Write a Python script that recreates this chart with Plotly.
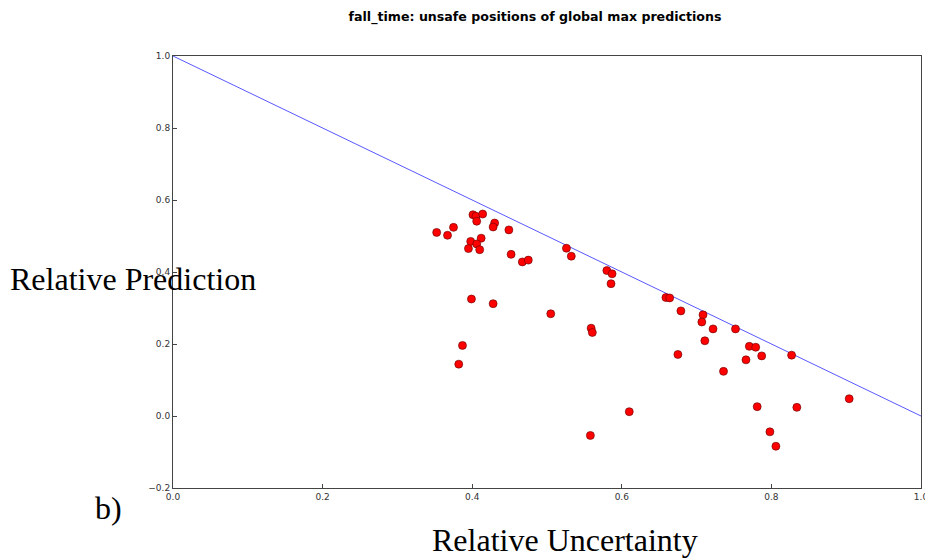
import plotly.graph_objects as go

rel_uncertainty = [0.3525, 0.367, 0.375, 0.401, 0.405, 0.406, 0.414, 0.430, 0.428, 0.449,
                   0.398, 0.412, 0.406, 0.395, 0.410, 0.452, 0.467, 0.475, 0.526, 0.399,
                   0.428, 0.505, 0.387, 0.382, 0.5325, 0.580, 0.587, 0.5856, 0.559, 0.5606,
                   0.659, 0.664, 0.679, 0.7086, 0.707, 0.722, 0.711, 0.675, 0.736, 0.610,
                   0.558, 0.752, 0.7705, 0.779, 0.766, 0.787, 0.827, 0.904, 0.781, 0.834,
                   0.798, 0.806]
rel_prediction = [0.510, 0.502, 0.524, 0.559, 0.555, 0.541, 0.561, 0.536, 0.525, 0.517,
                  0.485, 0.494, 0.478, 0.465, 0.462, 0.449, 0.428, 0.433, 0.466, 0.325,
                  0.312, 0.284, 0.196, 0.144, 0.444, 0.404, 0.395, 0.3675, 0.244, 0.232,
                  0.329, 0.328, 0.292, 0.281, 0.261, 0.242, 0.209, 0.171, 0.124, 0.012,
                  -0.054, 0.242, 0.1935, 0.191, 0.156, 0.167, 0.169, 0.048, 0.026, 0.024,
                  -0.044, -0.084]

line_x = [0.0, 1.0]
line_y = [1.0, 0.0]
x_ticks = [0.0, 0.2, 0.4, 0.6, 0.8, 1.0]
y_ticks = [-0.2, 0.0, 0.2, 0.4, 0.6, 0.8, 1.0]

fig = go.Figure()
fig.add_trace(go.Scatter(x=line_x, y=line_y, mode="lines",
                         line=dict(color="rgba(70,70,255,0.9)", width=1), showlegend=False))
fig.add_trace(go.Scatter(x=rel_uncertainty, y=rel_prediction, mode="markers",
                         marker=dict(color="#ff0000", size=8, line=dict(color="#600000", width=0.6)),
                         showlegend=False))

axis_common = dict(showgrid=False, zeroline=False, showline=True, mirror=True,
                   linecolor="#444", linewidth=1, ticks="inside", ticklen=4,
                   tickcolor="#444", tickfont=dict(family="DejaVu Sans", size=9, color="#333"),
                   ticklabeloverflow="allow", automargin=False)
fig.update_xaxes(range=[0, 1], tickvals=x_ticks, ticktext=[f"{v:.1f}" for v in x_ticks], **axis_common)
fig.update_yaxes(range=[-0.2, 1.0], tickvals=y_ticks,
                 ticktext=[("\u22120.2" if v < 0 else f"{v:.1f}") for v in y_ticks], **axis_common)

fig.update_layout(
    width=925, height=559,
    margin=dict(l=173, r=4, t=56, b=71, autoexpand=False),
    plot_bgcolor="white", paper_bgcolor="white",
    title=dict(text="<b>fall_time: unsafe positions of global max predictions</b>",
               x=535 / 925, xanchor="center", y=1 - 17 / 559, yanchor="middle",
               font=dict(family="DejaVu Sans", size=12.6, color="#000")),
    annotations=[
        dict(text="Relative Prediction", xref="paper", yref="paper",
             x=-165 / 748, y=(488 - 279) / 432, xanchor="left", yanchor="middle",
             showarrow=False, font=dict(family="Liberation Serif", size=32, color="#000")),
        dict(text="Relative Uncertainty", xref="paper", yref="paper",
             x=(565 - 173) / 748, y=-(540 - 488) / 432, xanchor="center", yanchor="middle",
             showarrow=False, font=dict(family="Liberation Serif", size=32, color="#000")),
        dict(text="b)", xref="paper", yref="paper",
             x=(93 - 173) / 748, y=-(508 - 488) / 432, xanchor="left", yanchor="middle",
             showarrow=False, font=dict(family="Liberation Serif", size=32, color="#000")),
    ],
)

fig.write_html("out.html")
